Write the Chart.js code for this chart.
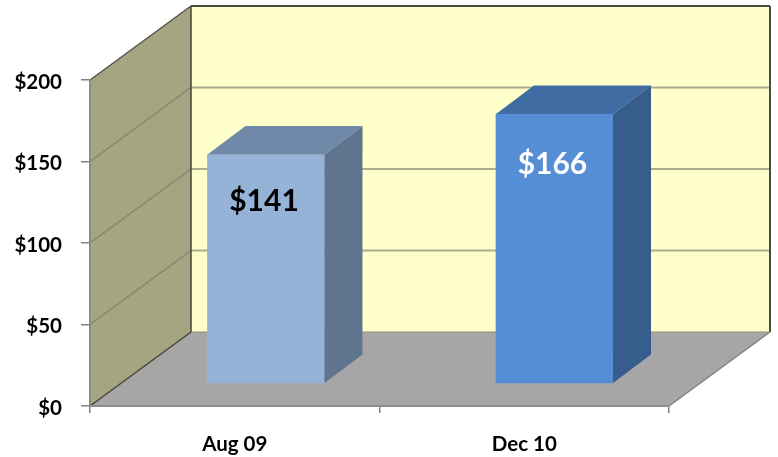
<!DOCTYPE html>
<html>
<head>
<meta charset="utf-8">
<script src="https://cdn.jsdelivr.net/npm/chart.js@4"></script>
<style>
  html, body { margin: 0; padding: 0; background: #fff; }
  canvas { display: block; }
</style>
</head>
<body>
<canvas id="Canvas" width="778" height="457"></canvas>
<script>
let categorias = ["Aug 09", "Dec 10"];
let valores = [141, 166];
let rotulos = ["$141", "$166"];

// cores de cada barra: frente, topo, lado
let corFrente = ["#95b3d7", "#558ed5"];
let corTopo = ["#7189a9", "#3f6ca3"];
let corLado = ["#5f758f", "#365d8c"];
let corRotulo = ["#000000", "#ffffff"];
let quedaRotulo = [47, 50];

// profundidade do grafico e das barras
let fundoX = 101, fundoY = -74;
let barraX = 38, barraY = -28.5;

function poligono(ctx, pontos, cor) {
  ctx.beginPath();
  ctx.moveTo(pontos[0][0], pontos[0][1]);
  for (let i = 1; i < pontos.length; i++) ctx.lineTo(pontos[i][0], pontos[i][1]);
  ctx.closePath();
  ctx.fillStyle = cor;
  ctx.fill();
}

function linha(ctx, x1, y1, x2, y2, cor, largura) {
  ctx.beginPath();
  ctx.moveTo(x1, y1);
  ctx.lineTo(x2, y2);
  ctx.strokeStyle = cor;
  ctx.lineWidth = largura;
  ctx.stroke();
}

// paredes e chao em perspectiva
let paredes = {
  id: "paredes",
  beforeDraw(chart) {
    let ctx = chart.ctx;
    let a = chart.chartArea;
    let y0 = chart.scales.y.getPixelForValue(0);
    let yT = chart.scales.y.getPixelForValue(200);
    ctx.save();
    poligono(ctx, [[a.left + fundoX, yT + fundoY], [a.right + fundoX, yT + fundoY], [a.right + fundoX, y0 + fundoY], [a.left + fundoX, y0 + fundoY]], "#ffffcc");
    poligono(ctx, [[a.left, yT], [a.left + fundoX, yT + fundoY], [a.left + fundoX, y0 + fundoY], [a.left, y0]], "#a6a581");
    poligono(ctx, [[a.left, y0], [a.right, y0], [a.right + fundoX, y0 + fundoY], [a.left + fundoX, y0 + fundoY]], "#a6a6a6");

    chart.scales.y.ticks.forEach(function (t) {
      if (t.value === 0 || t.value === 200) return;
      let y = chart.scales.y.getPixelForValue(t.value);
      linha(ctx, a.left, y, a.left + fundoX, y + fundoY, "#86856c", 1.5);
      linha(ctx, a.left + fundoX, y + fundoY, a.right + fundoX, y + fundoY, "#aeac90", 2);
    });

    linha(ctx, a.left + fundoX, yT + fundoY, a.left + fundoX, y0 + fundoY, "#45453a", 1.5);
    linha(ctx, a.left + fundoX, yT + fundoY, a.right + fundoX, yT + fundoY, "#4a4a3e", 2);
    linha(ctx, a.right + fundoX, yT + fundoY, a.right + fundoX, y0 + fundoY, "#4a4a4a", 2);
    linha(ctx, a.left + fundoX, y0 + fundoY, a.right + fundoX, y0 + fundoY, "#8f8f80", 1);
    linha(ctx, a.left, yT, a.left + fundoX, yT + fundoY, "#55554a", 1.5);
    linha(ctx, a.left, y0, a.left + fundoX, y0 + fundoY, "#45453c", 1.5);
    linha(ctx, a.right, y0, a.right + fundoX, y0 + fundoY, "#808080", 1.5);
    ctx.restore();
  }
};

// topo e lado das barras, depois o valor escrito na frente
let barras3d = {
  id: "barras3d",
  afterDatasetsDraw(chart) {
    let ctx = chart.ctx;
    chart.getDatasetMeta(0).data.forEach(function (b, i) {
      let esq = b.x - b.width / 2;
      let dir = b.x + b.width / 2;
      poligono(ctx, [[esq, b.y], [dir, b.y], [dir + barraX, b.y + barraY], [esq + barraX, b.y + barraY]], corTopo[i]);
      poligono(ctx, [[dir, b.y], [dir + barraX, b.y + barraY], [dir + barraX, b.base + barraY], [dir, b.base]], corLado[i]);

      ctx.save();
      ctx.font = "bold 30px Lato";
      ctx.fillStyle = corRotulo[i];
      ctx.textAlign = "center";
      ctx.textBaseline = "middle";
      ctx.fillText(rotulos[i], b.x - 2, b.y + quedaRotulo[i]);
      ctx.restore();
    });
  }
};

let ctx = document.getElementById("Canvas").getContext("2d");

new Chart(ctx, {
  type: "bar",
  data: {
    labels: categorias,
    datasets: [{
      data: [{ x: 0, y: valores[0] }, { x: 1, y: valores[1] }],
      xAxisID: "xBarra",
      yAxisID: "yBarra",
      backgroundColor: corFrente,
      borderWidth: 0,
      barThickness: 117
    }]
  },
  options: {
    responsive: false,
    animation: false,
    devicePixelRatio: 1,
    layout: { padding: { top: 80, right: 109, left: 0, bottom: 0 } },
    plugins: { legend: { display: false }, tooltip: { enabled: false } },
    scales: {
      x: {
        type: "category",
        offset: true,
        afterFit(s) { s.height = 51; },
        grid: { offset: true, drawOnChartArea: false, color: "#808080", tickLength: 7, lineWidth: 1.5 },
        border: { color: "#8c8c8c", width: 2 },
        ticks: { color: "#000", padding: 19, maxRotation: 0, font: { family: "Lato", weight: "bold", size: 20.5 } }
      },
      y: {
        min: 0,
        max: 200,
        afterFit(s) { s.width = 90; },
        grid: { drawOnChartArea: false, color: "#808080", tickLength: 9, lineWidth: 1.5 },
        border: { color: "#8c8c8c", width: 2 },
        ticks: {
          stepSize: 50,
          color: "#000",
          padding: 19,
          labelOffset: 2,
          font: { family: "Lato", weight: "bold", size: 20.5 },
          callback: function (v) { return "$" + v; }
        }
      },
      // eixos escondidos: as barras ficam recuadas dentro do chao
      xBarra: { type: "linear", display: false, offset: false, min: -0.61, max: 1.397 },
      yBarra: { type: "linear", display: false, position: "left", min: -14.2, max: 187.04 }
    }
  },
  plugins: [paredes, barras3d]
});
</script>
</body>
</html>
